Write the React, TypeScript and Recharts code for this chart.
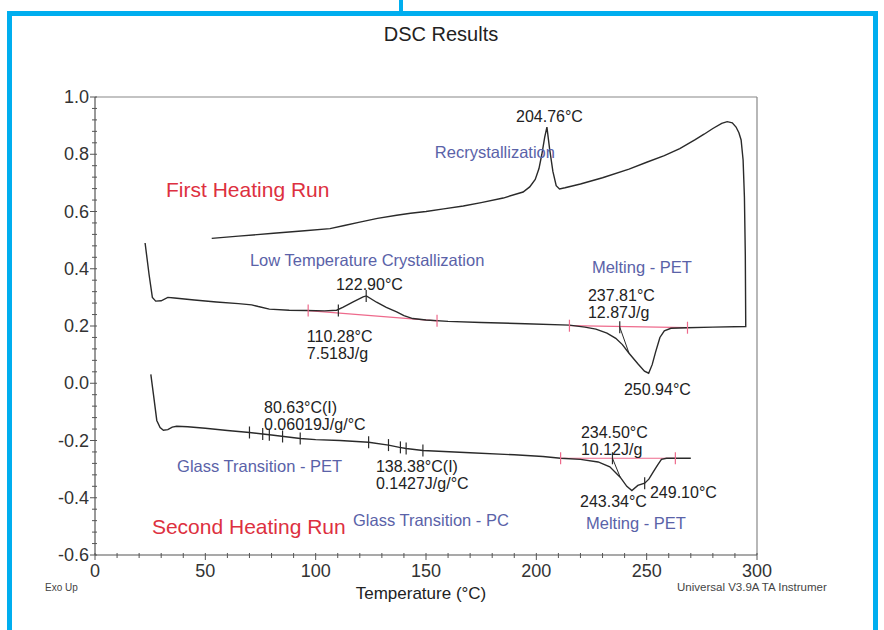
import React from 'react';
import { ComposedChart, Line, Scatter, XAxis, YAxis, ReferenceLine } from 'recharts';

// [temperature °C, heat flow W/g] in drawing order
const FIRST_RUN_RAW = [
  [22.7, 0.49], [24.5, 0.38], [26, 0.3], [27.5, 0.287], [30, 0.288], [33, 0.3], [36, 0.298],
  [45, 0.291], [55, 0.284], [65, 0.278], [71, 0.274], [74, 0.268], [79, 0.259], [88, 0.255],
  [96, 0.254], [104, 0.253], [109.5, 0.255], [112.5, 0.266], [117, 0.284], [121.5, 0.302],
  [123, 0.305], [127.6, 0.283], [132, 0.265], [136.7, 0.249], [140, 0.236], [144, 0.226],
  [150, 0.221], [160, 0.216], [175, 0.212], [195, 0.208], [215, 0.203], [222, 0.196],
  [227, 0.189], [232, 0.175], [236, 0.157], [239, 0.135], [242, 0.105], [246, 0.068],
  [249, 0.042], [250.9, 0.035], [252.5, 0.065], [254, 0.108], [256, 0.16], [258, 0.183],
  [261, 0.192], [268, 0.194], [280, 0.196], [294.9, 0.198],
  [294.7, 0.45], [294.3, 0.65], [293.7, 0.78], [292.8, 0.85], [291.8, 0.875], [290.5, 0.895],
  [288.8, 0.91], [286.5, 0.914], [284, 0.908], [280, 0.89], [276, 0.87], [272, 0.851],
  [265, 0.82], [258, 0.795], [250, 0.772], [242, 0.748], [230, 0.718], [220, 0.696],
  [213, 0.683], [210.5, 0.679], [209, 0.69], [207.5, 0.74], [206, 0.82], [204.8, 0.895],
  [203.8, 0.86], [202.5, 0.8], [201.2, 0.75], [199.5, 0.712], [197, 0.686], [194, 0.668],
  [185, 0.647], [175, 0.631], [166.9, 0.619], [158, 0.609], [150, 0.6], [143, 0.594],
  [136.7, 0.587], [128, 0.576], [120, 0.563], [113, 0.551], [106.5, 0.54], [95, 0.533],
  [80.9, 0.524], [65, 0.514], [52.9, 0.506],
];

const SECOND_RUN_RAW = [
  [25.3, 0.031], [26.5, -0.04], [28, -0.13], [29.5, -0.155], [31, -0.164], [33, -0.162],
  [35, -0.153], [37, -0.15], [42, -0.152], [50, -0.157], [60, -0.165], [70, -0.172],
  [80, -0.181], [93, -0.193], [100, -0.197], [111, -0.2], [124, -0.206], [133, -0.216],
  [138, -0.224], [141, -0.228], [148.6, -0.235], [170, -0.243], [190, -0.25], [203, -0.256],
  [211, -0.262], [220, -0.266], [228, -0.275], [233.3, -0.292], [238, -0.328], [241, -0.36],
  [243.3, -0.375], [246, -0.357], [249.1, -0.349], [251, -0.335], [253, -0.31], [255, -0.285],
  [256.7, -0.266], [259, -0.262], [270, -0.262],
];

const BASELINES_RAW = [
  [[96.6, 0.254], [155, 0.218]],
  [[215, 0.201], [268.5, 0.194]],
  [[211, -0.262], [263, -0.262]],
];

const TANGENTS_RAW = [
  [[237.81, 0.196], [242, 0.105]],
  [[234.5, -0.262], [238, -0.328]],
];

const PINK_MARKS_RAW = [
  [96.6, 0.254], [155, 0.218], [215, 0.201], [268.5, 0.194], [211, -0.262], [263, -0.262],
];

const BLACK_MARKS_RAW = [
  [110.28, 0.254], [122.9, 0.305], [237.81, 0.196], [70, -0.172], [76, -0.177], [79, -0.18],
  [85, -0.186], [93, -0.193], [124, -0.206], [133, -0.216], [138.4, -0.224], [141, -0.228],
  [148.6, -0.235], [234.5, -0.262], [249.1, -0.349],
];

// annotation text, anchored at its left/baseline point in data units
const NOTES = [
  { t: 32.2, v: 0.65, text: 'First Heating Run', kind: 'run' },
  { t: 154, v: 0.787, text: 'Recrystallization', kind: 'name' },
  { t: 190.8, v: 0.913, text: '204.76°C', kind: 'value' },
  { t: 70.2, v: 0.409, text: 'Low Temperature Crystallization', kind: 'name' },
  { t: 109.2, v: 0.325, text: '122.90°C', kind: 'value' },
  { t: 96, v: 0.143, text: '110.28°C', kind: 'value' },
  { t: 96, v: 0.084, text: '7.518J/g', kind: 'value' },
  { t: 225.2, v: 0.385, text: 'Melting - PET', kind: 'name' },
  { t: 223.4, v: 0.287, text: '237.81°C', kind: 'value' },
  { t: 223.4, v: 0.227, text: '12.87J/g', kind: 'value' },
  { t: 239.7, v: -0.042, text: '250.94°C', kind: 'value' },
  { t: 76.6, v: -0.105, text: '80.63°C(I)', kind: 'value' },
  { t: 76.6, v: -0.164, text: '0.06019J/g/°C', kind: 'value' },
  { t: 37.2, v: -0.311, text: 'Glass Transition - PET', kind: 'name' },
  { t: 127.3, v: -0.311, text: '138.38°C(I)', kind: 'value' },
  { t: 127.3, v: -0.371, text: '0.1427J/g/°C', kind: 'value' },
  { t: 220.2, v: -0.192, text: '234.50°C', kind: 'value' },
  { t: 220.2, v: -0.252, text: '10.12J/g', kind: 'value' },
  { t: 219.8, v: -0.434, text: '243.34°C', kind: 'value' },
  { t: 251.5, v: -0.402, text: '249.10°C', kind: 'value' },
  { t: 25.8, v: -0.528, text: 'Second Heating Run', kind: 'run' },
  { t: 116.9, v: -0.497, text: 'Glass Transition - PC', kind: 'name' },
  { t: 222.5, v: -0.51, text: 'Melting - PET', kind: 'name' },
];

const X_TICKS = [0, 10, 20, 30, 40, 50, 60, 70, 80, 90, 100, 110, 120, 130, 140, 150, 160, 170,
  180, 190, 200, 210, 220, 230, 240, 250, 260, 270, 280, 290, 300];
const X_LABELS = [0, 50, 100, 150, 200, 250, 300];
const Y_TICKS = [-0.6, -0.56, -0.52, -0.48, -0.44, -0.4, -0.36, -0.32, -0.28, -0.24, -0.2, -0.16,
  -0.12, -0.08, -0.04, 0, 0.04, 0.08, 0.12, 0.16, 0.2, 0.24, 0.28, 0.32, 0.36, 0.4, 0.44, 0.48,
  0.52, 0.56, 0.6, 0.64, 0.68, 0.72, 0.76, 0.8, 0.84, 0.88, 0.92, 0.96, 1.0];
const Y_LABELS = [-0.6, -0.4, -0.2, 0, 0.2, 0.4, 0.6, 0.8, 1.0];

const toPts = (arr: number[][]) => arr.map(([t, v]) => ({ t, v }));
const FIRST_RUN = toPts(FIRST_RUN_RAW);
const SECOND_RUN = toPts(SECOND_RUN_RAW);
const BASELINES = BASELINES_RAW.map(toPts);
const TANGENTS = TANGENTS_RAW.map(toPts);
const PINK_MARKS = toPts(PINK_MARKS_RAW);
const BLACK_MARKS = toPts(BLACK_MARKS_RAW);

const FONT = '"Liberation Sans", Arial, Helvetica, sans-serif';
const AXIS = '#555';
const CURVE = '#2a2a2a';
const PINK = '#ee6a8c';
const BLUE_FRAME = '#00aeef';

const NOTE_STYLE: Record<string, { fill: string; size: number }> = {
  run: { fill: '#dd3040', size: 21 },
  name: { fill: '#5a62a8', size: 16.5 },
  value: { fill: '#222', size: 16 },
};

const isLabel = (list: number[], v: number) => list.some((l) => Math.abs(l - v) < 1e-6);

const YTick = (p: any) => {
  const v = p.payload.value;
  const major = isLabel(Y_LABELS, v);
  return (
    <g>
      <line x1={p.x - (major ? 5 : 3)} x2={p.x + 2} y1={p.y} y2={p.y} stroke={AXIS} strokeWidth={1} />
      {major && (
        <text x={p.x - 6} y={p.y + 6} textAnchor="end" fontFamily={FONT} fontSize={18} fill="#333">
          {v.toFixed(1)}
        </text>
      )}
    </g>
  );
};

const XTick = (p: any) => {
  const v = p.payload.value;
  const major = isLabel(X_LABELS, v);
  return (
    <g>
      <line x1={p.x} x2={p.x} y1={p.y - 2} y2={p.y + (major ? 5 : 3)} stroke={AXIS} strokeWidth={1} />
      {major && (
        <text x={p.x} y={p.y + 22} textAnchor="middle" fontFamily={FONT} fontSize={18} fill="#333">
          {v}
        </text>
      )}
    </g>
  );
};

const markShape = (color: string) => (p: any) => (
  <line x1={p.cx} x2={p.cx} y1={p.cy - 6} y2={p.cy + 6} stroke={color} strokeWidth={1.2} />
);

const NoteShape = (p: any) => {
  const s = NOTE_STYLE[p.payload.kind];
  return (
    <text x={p.cx} y={p.cy} fontFamily={FONT} fontSize={s.size} fill={s.fill}>
      {p.payload.text}
    </text>
  );
};

export default function App() {
  return (
    <div style={{ position: 'absolute', left: 0, top: 0, width: 884, height: 630, overflow: 'hidden', background: '#fff' }}>
      <div style={{ position: 'absolute', left: 7, top: 11, width: 871, height: 700, border: `5px solid ${BLUE_FRAME}`, boxSizing: 'border-box' }} />
      <div style={{ position: 'absolute', left: 399, top: 0, width: 4, height: 12, background: BLUE_FRAME }} />
      <div style={{ position: 'absolute', left: 0, top: 0 }}>
        <ComposedChart width={884} height={630} margin={{ top: 97, right: 127, bottom: 45, left: 0 }}>
          <XAxis
            dataKey="t"
            type="number"
            domain={[0, 300]}
            ticks={X_TICKS}
            interval={0}
            tick={XTick}
            tickLine={false}
            tickSize={0}
            tickMargin={0}
            height={30}
            axisLine={{ stroke: AXIS, strokeWidth: 1.2 }}
            allowDataOverflow
          />
          <YAxis
            dataKey="v"
            type="number"
            domain={[-0.6, 1.0]}
            ticks={Y_TICKS}
            interval={0}
            tick={YTick}
            tickLine={false}
            tickSize={0}
            tickMargin={0}
            width={95}
            axisLine={{ stroke: AXIS, strokeWidth: 1.2 }}
            allowDataOverflow
          />
          <ReferenceLine y={1} stroke="#888" strokeWidth={1.2} />
          <ReferenceLine x={300} stroke="#888" strokeWidth={1.2} />
          {BASELINES.map((b, i) => (
            <Line key={`b${i}`} data={b} dataKey="v" type="linear" stroke={PINK} strokeWidth={1.2} dot={false} isAnimationActive={false} />
          ))}
          {TANGENTS.map((b, i) => (
            <Line key={`g${i}`} data={b} dataKey="v" type="linear" stroke={CURVE} strokeWidth={1} dot={false} isAnimationActive={false} />
          ))}
          <Line data={FIRST_RUN} dataKey="v" type="linear" stroke={CURVE} strokeWidth={1.4} dot={false} isAnimationActive={false} />
          <Line data={SECOND_RUN} dataKey="v" type="linear" stroke={CURVE} strokeWidth={1.4} dot={false} isAnimationActive={false} />
          <Scatter data={PINK_MARKS} dataKey="v" shape={markShape(PINK)} isAnimationActive={false} />
          <Scatter data={BLACK_MARKS} dataKey="v" shape={markShape(CURVE)} isAnimationActive={false} />
          <Scatter data={NOTES} dataKey="v" shape={NoteShape} isAnimationActive={false} />
        </ComposedChart>
      </div>
      <svg width={884} height={630} style={{ position: 'absolute', left: 0, top: 0, pointerEvents: 'none' }}>
        <text x={441} y={41} textAnchor="middle" fontFamily={FONT} fontSize={20} fill="#222">DSC Results</text>
        <text x={421} y={599} textAnchor="middle" fontFamily={FONT} fontSize={17} fill="#222">Temperature (°C)</text>
        <text x={45} y={591} fontFamily={FONT} fontSize={10} fill="#444">Exo Up</text>
        <text x={677} y={591} fontFamily={FONT} fontSize={11.5} fill="#444">Universal V3.9A TA Instrumer</text>
      </svg>
    </div>
  );
}
